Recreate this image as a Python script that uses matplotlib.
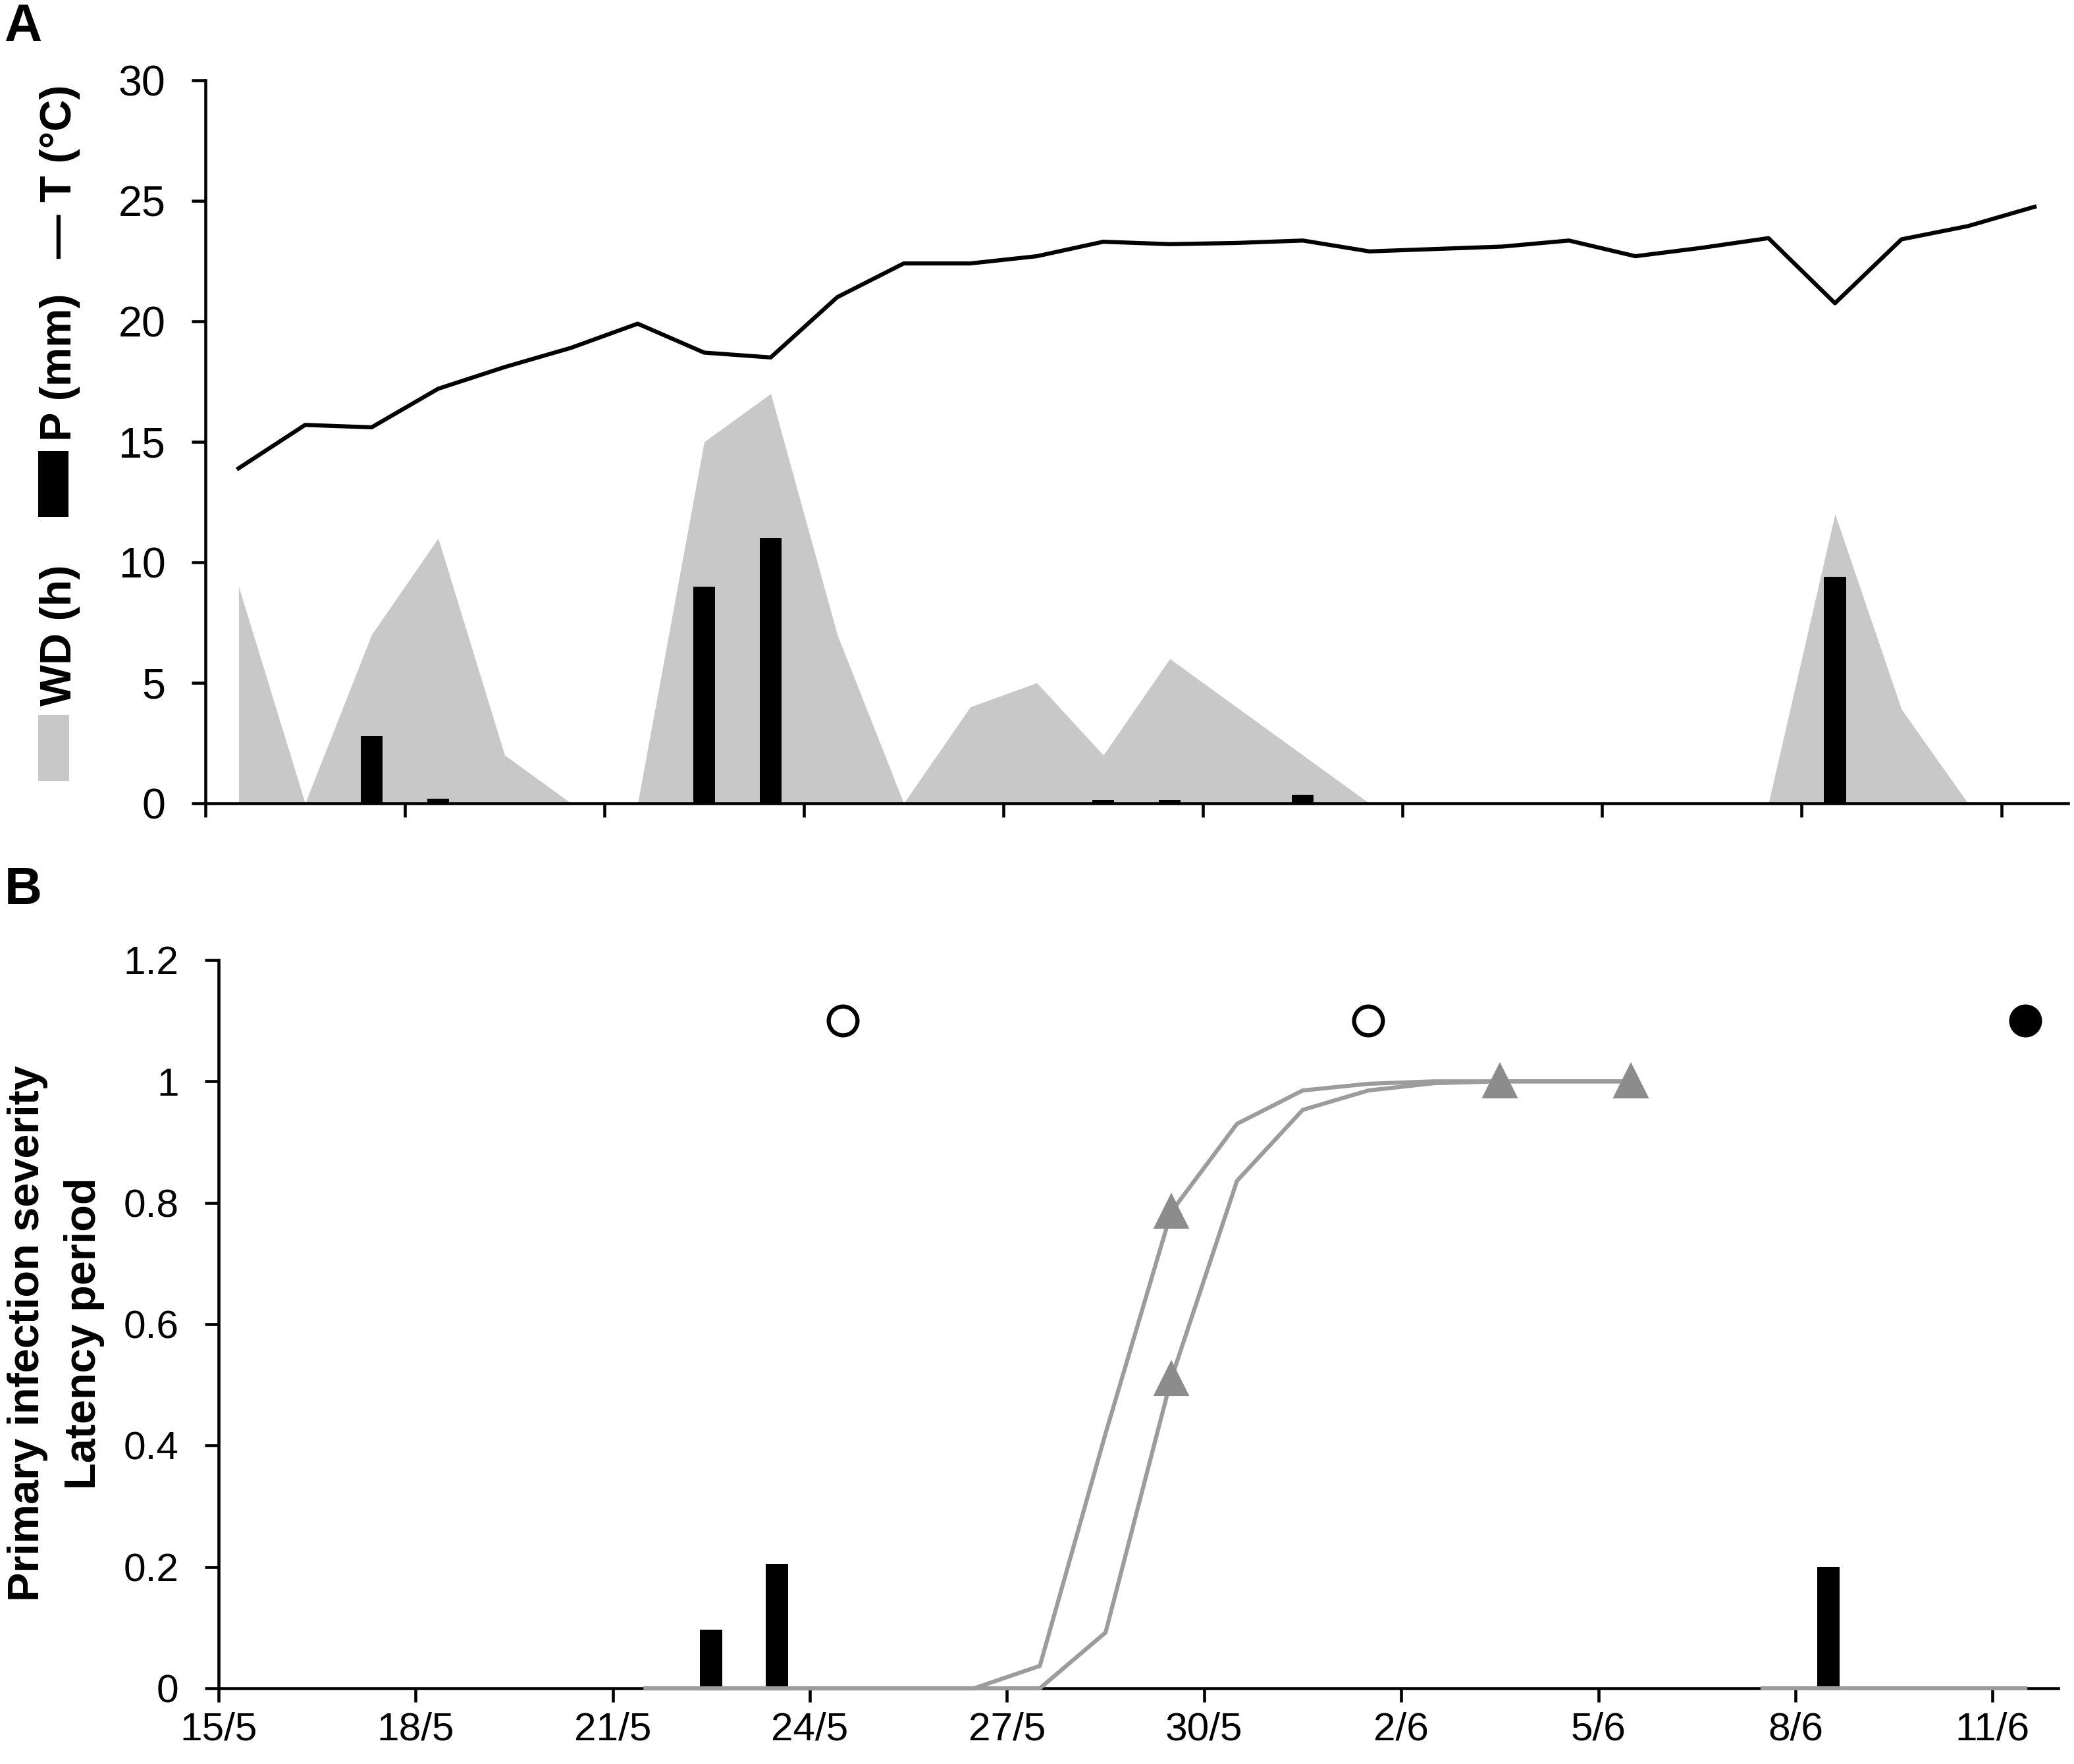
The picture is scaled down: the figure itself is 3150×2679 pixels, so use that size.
import matplotlib
matplotlib.use('Agg')
import matplotlib.pyplot as plt
from matplotlib.patches import Rectangle
import numpy as np

plt.rcParams['font.family'] = ['Liberation Sans', 'DejaVu Sans']

# days counted from 15/5, daily values sit at mid-day
days = np.arange(28) + 0.5

# panel A: mean temperature (°C), wetness duration (h), rain (mm)
temp = [13.9, 15.7, 15.6, 17.2, 18.1, 18.9, 19.9, 18.7, 18.5, 21.0,
        22.4, 22.4, 22.7, 23.3, 23.2, 23.25, 23.35, 22.9, 23.0, 23.1,
        23.35, 22.7, 23.05, 23.45, 20.75, 23.4, 23.95, 24.75]
wetness = [9, 0, 7, 11, 2, 0, 0, 15, 17, 7,
           0, 4, 5, 2, 6, 4, 2, 0, 0, 0,
           0, 0, 0, 0, 12, 3.9, 0, 0]
rain = [0, 0, 2.8, 0.2, 0, 0, 0, 9.0, 11.0, 0,
        0, 0, 0, 0.15, 0.15, 0, 0.35, 0, 0, 0,
        0, 0, 0, 0, 9.4, 0, 0, 0]

# panel B: primary infection severity
severity_days = [7.5, 8.5, 24.5]
severity = [0.097, 0.205, 0.2]

# latency period progress of the infection events
latency_days = np.arange(6, 22) + 0.5
latency_1 = [0, 0, 0, 0, 0, 0, 0.037, 0.42, 0.785, 0.93,
             0.985, 0.996, 1.0, 1.0, 1.0, 1.0]
latency_2 = [0, 0, 0, 0, 0, 0, 0, 0.092, 0.51, 0.836,
             0.953, 0.985, 0.997, 1.0, 1.0, 1.0]
latency_marks = [8, 13, 15]
latency_3_days = np.arange(23, 28) + 0.5
latency_3 = [0, 0, 0, 0, 0]

# infection events shown as circles
open_days = [9.5, 17.5]
open_level = [1.1, 1.1]
filled_days = [27.5]
filled_level = [1.1]

tick_days = np.arange(0, 28, 3)
tick_labels = ['15/5', '18/5', '21/5', '24/5', '27/5', '30/5',
               '2/6', '5/6', '8/6', '11/6']

fill_grey = '#c8c8c8'
line_grey = '#9c9c9c'
mark_grey = '#8c8c8c'

fig = plt.figure(figsize=(10.5, 8.93), dpi=300)


def style_axes(ax, labelsize):
    ax.spines['top'].set_visible(False)
    ax.spines['right'].set_visible(False)
    for s in ('left', 'bottom'):
        ax.spines[s].set_linewidth(1.1)
    ax.tick_params(direction='out', length=5, width=1.1,
                   labelsize=labelsize)
    ax.tick_params(axis='y', pad=9.5)
    ax.set_xlim(0, 28)
    ax.set_xticks(tick_days)


# ---- panel A ----
ax1 = fig.add_axes([0.099, 0.5446, 0.898, 0.4099])
ax1.fill_between(days, wetness, 0, color=fill_grey, lw=0, zorder=1)
ax1.bar(days, rain, width=0.33, color='black', zorder=2)
ax1.plot(days, temp, color='black', lw=1.5, zorder=3)
style_axes(ax1, 15.5)
ax1.set_ylim(0, 30)
ax1.set_yticks(np.arange(0, 31, 5))
ax1.set_xticklabels([])

# composite y label of panel A
lab = dict(rotation=90, rotation_mode='anchor', ha='center', va='baseline',
           fontsize=16, fontweight='bold')
fig.text(0.0343, 0.6398, 'WD (h)', **lab)
fig.text(0.0343, 0.7917, 'P (mm)', **lab)
fig.text(0.0343, 0.903, '\u2014 T (°C)', **lab)
fig.add_artist(Rectangle((0.0184, 0.5573), 0.0149, 0.0373,
                         transform=fig.transFigure, color=fill_grey, lw=0))
fig.add_artist(Rectangle((0.0184, 0.707), 0.0146, 0.0373,
                         transform=fig.transFigure, color='black', lw=0))

# ---- panel B ----
ax2 = fig.add_axes([0.1054, 0.0429, 0.887, 0.4129])
ax2.bar(severity_days, severity, width=0.34, color='black', zorder=2)
for lat in (latency_1, latency_2):
    ax2.plot(latency_days, lat, color=line_grey, lw=1.5, marker='^',
             markevery=latency_marks, markersize=11.5, markerfacecolor=mark_grey,
             markeredgecolor=mark_grey, zorder=3, clip_on=False)
ax2.plot(latency_3_days, latency_3, color=line_grey, lw=1.5, zorder=3,
         clip_on=False)
ax2.plot(open_days, open_level, 'o', markersize=10.5, markerfacecolor='white',
         markeredgecolor='black', markeredgewidth=1.5, zorder=4)
ax2.plot(filled_days, filled_level, 'o', markersize=11, color='black', zorder=4)
style_axes(ax2, 14.5)
ax2.tick_params(axis='x', pad=3.5)
ax2.set_ylim(0, 1.2)
ax2.set_yticks([0, 0.2, 0.4, 0.6, 0.8, 1, 1.2])
ax2.set_yticklabels(['0', '0.2', '0.4', '0.6', '0.8', '1', '1.2'])
ax2.set_xticklabels(tick_labels)

fig.text(0.027, 0.244, 'Primary infection severity\nLatency period',
         rotation=90, ha='center', va='center', multialignment='center',
         fontsize=16, fontweight='bold', linespacing=1.5)

# panel letters
fig.text(0.002, 0.9769, 'A', fontsize=19, fontweight='bold')
fig.text(0.002, 0.4875, 'B', fontsize=19, fontweight='bold')

fig.savefig('out.png', dpi=300)
